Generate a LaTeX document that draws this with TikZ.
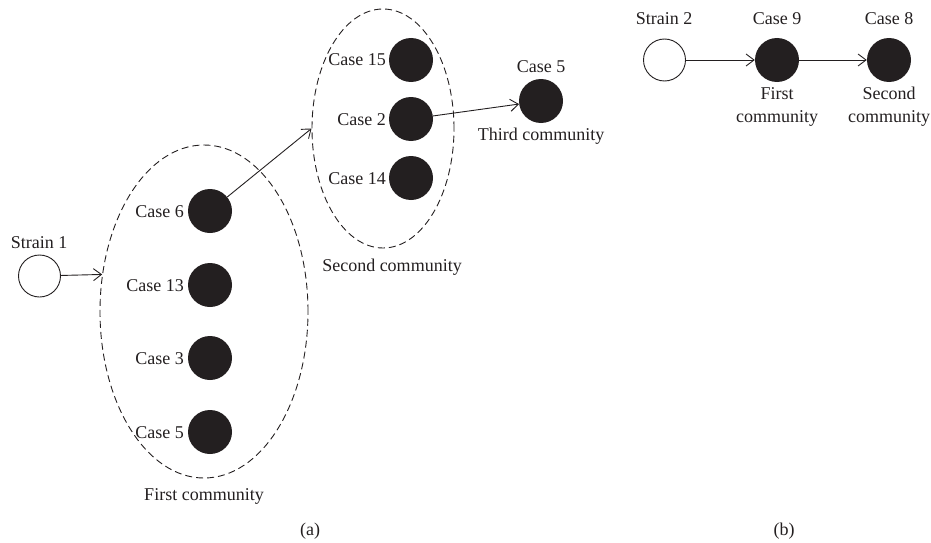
\documentclass[tikz,border=0pt]{standalone}
\usepackage{fontspec}
\setmainfont{Liberation Serif}
\usetikzlibrary{shapes.geometric,arrows.meta}
\definecolor{ink}{HTML}{231F20}
\begin{document}
\begin{tikzpicture}[x=1pt,y=-1pt,
  every node/.style={text=ink},
  txt/.style={font=\fontsize{18}{22}\selectfont, inner sep=0pt},
  casenode/.style={circle, fill=ink, draw=none, minimum size=44pt, inner sep=0pt},
  strainnode/.style={circle, draw=ink, fill=white, line width=0.9pt, minimum size=42pt, inner sep=0pt},
  community/.style={ellipse, draw=ink, dash pattern=on 7pt off 4pt, line width=0.9pt, inner sep=0pt},
  link/.style={draw=ink, line width=0.9pt, -{Straight Barb[length=8pt,width=12pt]}}
]
\useasboundingbox (0,0) rectangle (931,543);

% ---- panel (a)
\node[community, minimum width=208pt, minimum height=333pt] (e1) at (204,311.5) {};
\node[community, minimum width=142pt, minimum height=239pt] (e2) at (383,128.5) {};

\node[strainnode] (s1) at (39.5,276) {};
\node[casenode] (c6) at (210,211) {};
\node[casenode] (c13) at (210,285) {};
\node[casenode] (c3) at (210,358) {};
\node[casenode] (c5) at (210,432) {};

\node[casenode] (c15) at (411,60) {};
\node[casenode] (c2) at (411,119) {};
\node[casenode] (c14) at (411,178) {};

\node[casenode] (t5) at (541,101) {};

\node[txt, anchor=base] (ls1) at (39,248) {Strain 1};
\node[txt, anchor=base east] (l6) at (184,217) {Case 6};
\node[txt, anchor=base east] (l13) at (184,291) {Case 13};
\node[txt, anchor=base east] (l3) at (184,364) {Case 3};
\node[txt, anchor=base east] (l5) at (184,438) {Case 5};
\node[txt, anchor=base] (lfc) at (204,500) {First community};

\node[txt, anchor=base east] (l15) at (386,66) {Case 15};
\node[txt, anchor=base east] (l2) at (386,125) {Case 2};
\node[txt, anchor=base east] (l14) at (386,184) {Case 14};
\node[txt, anchor=base] (lsc) at (392,271) {Second community};

\node[txt, anchor=base] (lt5) at (541,73) {Case 5};
\node[txt, anchor=base] (ltc) at (541,140) {Third community};

\path[link] (s1) -- (e1.160.7);
\path[link] (c6) -- (e2.west);
\path[link] (c2) -- (t5);

\node[txt, anchor=base] (la) at (310,535) {(a)};

% ---- panel (b)
\node[strainnode] (s2) at (664.5,60) {};
\node[casenode] (c9) at (777,60) {};
\node[casenode] (c8) at (889,60) {};

\node[txt, anchor=base] (ls2) at (664,25) {Strain 2};
\node[txt, anchor=base] (l9) at (777,25) {Case 9};
\node[txt, anchor=base] (l8) at (889,25) {Case 8};
\node[txt, anchor=base] (lf9) at (777,99) {First};
\node[txt, anchor=base] (lf9b) at (777,122) {community};
\node[txt, anchor=base] (ls8) at (889,99) {Second};
\node[txt, anchor=base] (ls8b) at (889,122) {community};

\path[link] (s2) -- (c9);
\path[link] (c9) -- (c8);

\node[txt, anchor=base] (lb) at (784,535) {(b)};
\end{tikzpicture}
\end{document}
